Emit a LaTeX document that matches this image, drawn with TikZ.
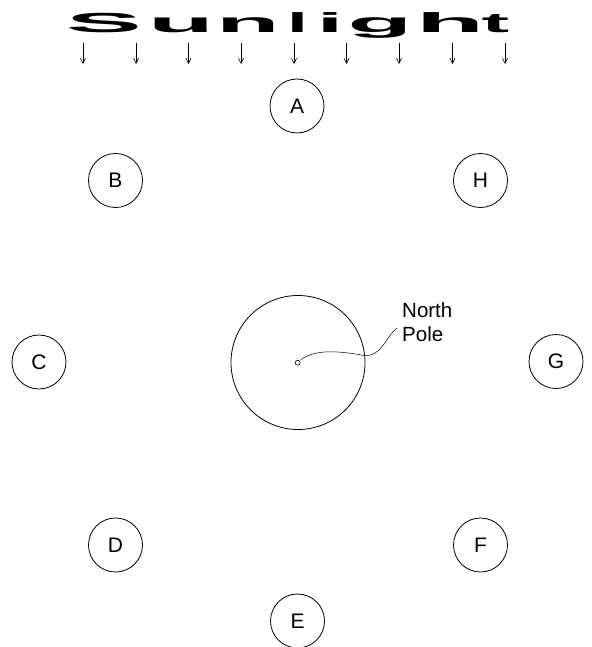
\documentclass[tikz,border=0pt]{standalone}
\usepackage{fontspec}
\setmainfont{Liberation Sans}
\usetikzlibrary{arrows.meta}
\begin{document}
\begin{tikzpicture}[x=1pt,y=-1pt,
  body/.style={circle,draw,line width=0.8pt,minimum size=54pt,inner sep=0pt,font=\fontsize{21}{24}\selectfont},
  letter/.style={anchor=base,inner sep=0pt,font=\fontsize{10}{12}\selectfont\bfseries},
  ray/.style={line width=0.6pt,-{Straight Barb[length=5pt,width=5pt]}}]
\useasboundingbox (0,0) rectangle (591,647);
% Sunlight
\node[letter] (s1) at (104,32.5) {\scalebox{11.4}[2.75]{S}};
\node[letter] (s2) at (181,32.5) {\scalebox{10.8}[2.75]{u}};
\node[letter] (s3) at (248,32.5) {\scalebox{10.4}[2.75]{n}};
\node[letter] (s4) at (297.5,32.5) {\scalebox{7.5}[2.75]{l}};
\node[letter] (s5) at (330,32.5) {\scalebox{9.5}[2.75]{i}};
\node[letter] (s6) at (380,32.5) {\scalebox{10.6}[2.75]{g}};
\node[letter] (s7) at (450,32.5) {\scalebox{11.2}[2.75]{h}};
\node[letter] (s8) at (495.5,32.5) {\scalebox{8.3}[2.75]{t}};
% rays
\foreach \i/\x in {1/83,2/136,3/188.5,4/241,5/294,6/346.5,7/399,8/452.5,9/505}{
  \coordinate (r\i a) at (\x,43);
  \coordinate (r\i b) at (\x,64);
  \draw[ray] (r\i a) -- (r\i b);
}
% positions
\node[body] (A) at (297,106) {A};
\node[body] (B) at (115.5,180.5) {B};
\node[body] (H) at (480.5,180.5) {H};
\node[body] (C) at (39,362) {C};
\node[body] (G) at (556,361.5) {G};
\node[body] (D) at (115.5,545) {D};
\node[body] (F) at (480.5,545) {F};
\node[body] (E) at (297.5,621) {E};
% Earth
\node[circle,draw,line width=0.8pt,minimum size=134pt,inner sep=0pt] (earth) at (298,362.5) {};
\node[circle,draw,line width=0.6pt,minimum size=5pt,inner sep=0pt] (np) at (297.7,362.7) {};
\node[anchor=north west,inner sep=0pt,align=left,font=\fontsize{20.5}{24}\selectfont] (label) at (402,302) {North\\Pole};
\coordinate (lend) at (397,328);
\draw[line width=0.5pt] (np.north east) ++(1,-1) .. controls (314,350) and (335,350) .. (364,355.5) .. controls (382,357) and (386,336) .. (lend);
\end{tikzpicture}
\end{document}
